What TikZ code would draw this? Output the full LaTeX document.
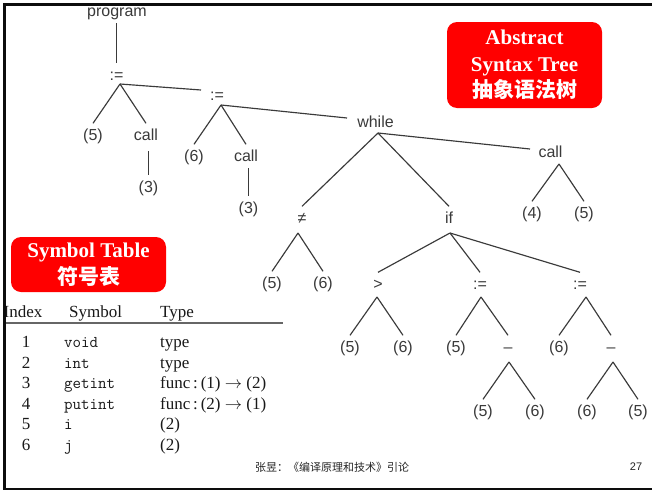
\documentclass[tikz,border=0pt]{standalone}
\usepackage{fontspec}
\setmainfont{Liberation Serif}
\newfontfamily\treefont{Liberation Sans}
\newfontfamily\cjk{Noto Sans CJK SC}
\usetikzlibrary{calc}
\definecolor{treegray}{HTML}{3A3A3A}
\definecolor{slidered}{HTML}{FF0000}
\begin{document}
\begin{tikzpicture}[x=1pt,y=-1pt,
  tn/.style={font=\treefont\fontsize{16}{16}\selectfont, text=treegray, text height=10pt, text depth=2pt, inner xsep=1pt, inner ysep=6.5pt, anchor=center},
  tl/.style={draw=treegray, line width=1.15pt},
  redbox/.style={fill=slidered, rounded corners=10pt, draw=none, text=white, align=center, inner sep=0pt, font=\fontsize{21}{26.5}\selectfont\bfseries},
  tab/.style={font=\fontsize{17}{17}\selectfont, anchor=base west, inner sep=0pt, text=black!90},
  tabc/.style={font=\fontsize{17}{17}\selectfont, anchor=base, inner sep=0pt, text=black!90},
  tabtt/.style={font=\ttfamily\fontsize{16.5}{16.5}\selectfont, anchor=base west, inner sep=0pt, text=black!90},
]
\useasboundingbox (0,0) rectangle (652,490);
\fill[white] (0,0) rectangle (652,490);

% ---------- tree nodes ----------
\node[tn] (prog) at (117,12) {program};
\node[tn] (a1) at (116.5,76) {:=};
\node[tn] (n5a) at (93,136) {(5)};
\node[tn] (callA) at (146,136) {call};
\node[tn] (n3a) at (148.5,188) {(3)};
\node[tn] (a2) at (217,96) {:=};
\node[tn] (n6a) at (194,157) {(6)};
\node[tn] (callB) at (246,157) {call};
\node[tn] (n3b) at (248.5,209) {(3)};
\node[tn] (wh) at (375.5,123) {while};
\node[tn] (cR) at (550.5,153) {call};
\node[tn] (n4) at (532,214) {(4)};
\node[tn] (n5b) at (584,214) {(5)};
\node[tn] (neq) at (302,219) {≠};
\node[tn] (n5c) at (272,284) {(5)};
\node[tn] (n6c) at (323,284) {(6)};
\node[tn] (ifn) at (449,219) {if};
\node[tn] (gt) at (378,285) {>};
\node[tn] (a3) at (480,285) {:=};
\node[tn] (a4) at (580,285) {:=};
\node[tn] (n5d) at (350,348) {(5)};
\node[tn] (n6d) at (403,348) {(6)};
\node[tn] (n5e) at (456,348) {(5)};
\node[tn] (m1) at (508,348) {–};
\node[tn] (n6e) at (559,348) {(6)};
\node[tn] (m2) at (611,348) {–};
\node[tn] (n5f) at (483,412) {(5)};
\node[tn] (n6f) at (535,412) {(6)};
\node[tn] (n6g) at (587,412) {(6)};
\node[tn] (n5g) at (638,412) {(5)};

% ---------- apex points ----------
\coordinate (progX) at ($(prog.center)+(-0.5,11)$);
\coordinate (a1X) at ($(a1.center)+(3.5,8)$);
\coordinate (callAX) at ($(callA.center)+(2.5,15)$);
\coordinate (a2X) at ($(a2.center)+(4,9)$);
\coordinate (callBX) at ($(callB.center)+(2.5,11)$);
\coordinate (whX) at ($(wh.center)+(2.5,10)$);
\coordinate (cRX) at ($(cR.center)+(8.5,11)$);
\coordinate (neqX) at ($(neq.center)+(-4,14)$);
\coordinate (ifX) at ($(ifn.center)+(1,14)$);
\coordinate (gtX) at ($(gt.center)+(-1,12)$);
\coordinate (a3X) at ($(a3.center)+(1,12)$);
\coordinate (a4X) at ($(a4.center)+(6,12)$);
\coordinate (m1X) at ($(m1.center)+(1,14)$);
\coordinate (m2X) at ($(m2.center)+(2,14)$);

% ---------- tree edges ----------
\draw[tl] (progX) -- (a1.north);
\draw[tl] (a1X) -- (n5a.north);
\draw[tl] (a1X) -- (callA.north);
\draw[tl] (a1X) -- ($(a2.center)+(-16,-6)$);
\draw[tl] (callAX) -- (n3a.north);
\draw[tl] (a2X) -- (n6a.north);
\draw[tl] (a2X) -- (callB.north);
\draw[tl] (a2X) -- ($(wh.center)+(-28.5,-5)$);
\draw[tl] (callBX) -- (n3b.north);
\draw[tl] (whX) -- (neq.north);
\draw[tl] (whX) -- (ifn.north);
\draw[tl] (whX) -- ($(cR.center)+(-20.5,-4)$);
\draw[tl] (cRX) -- (n4.north);
\draw[tl] (cRX) -- (n5b.north);
\draw[tl] (neqX) -- (n5c.north);
\draw[tl] (neqX) -- (n6c.north);
\draw[tl] (ifX) -- (gt.north);
\draw[tl] (ifX) -- (a3.north);
\draw[tl] (ifX) -- (a4.north);
\draw[tl] (gtX) -- (n5d.north);
\draw[tl] (gtX) -- (n6d.north);
\draw[tl] (a3X) -- (n5e.north);
\draw[tl] (a3X) -- (m1.north);
\draw[tl] (a4X) -- (n6e.north);
\draw[tl] (a4X) -- (m2.north);
\draw[tl] (m1X) -- (n5f.north);
\draw[tl] (m1X) -- (n6f.north);
\draw[tl] (m2X) -- (n6g.north);
\draw[tl] (m2X) -- (n5g.north);

% ---------- red boxes ----------
\node[redbox, minimum width=155pt, minimum height=86pt] (ast) at (524.5,65)
  {Abstract\\Syntax Tree\\{\cjk\bfseries 抽象语法树}};
\node[redbox, minimum width=155pt, minimum height=55pt, font=\fontsize{21}{27}\selectfont\bfseries] (symtab) at (88.5,264.5)
  {Symbol Table\\{\cjk\bfseries 符号表}};

% ---------- symbol table ----------
\node[tab] (hIdx) at (3.5,317) {Index};
\node[tab] (hSym) at (69,317) {Symbol};
\node[tab] (hTyp) at (160,317) {Type};
\coordinate (ruleL) at (5,323);
\coordinate (ruleR) at (283,323);
\draw[draw=black!60, line width=1.2pt] (ruleL) -- (ruleR);

\node[tabc] (i1) at (26,347) {1};
\node[tabtt] (s1) at (64,347) {void};
\node[tab] (t1) at (160,347) {type};
\node[tabc] (i2) at (26,368) {2};
\node[tabtt] (s2) at (64,368) {int};
\node[tab] (t2) at (160,368) {type};
\node[tabc] (i3) at (26,388) {3};
\node[tabtt] (s3) at (64,388) {getint};
\node[tab] (t3) at (160,388) {func\,:\,(1) $\rightarrow$ (2)};
\node[tabc] (i4) at (26,409) {4};
\node[tabtt] (s4) at (64,409) {putint};
\node[tab] (t4) at (160,409) {func\,:\,(2) $\rightarrow$ (1)};
\node[tabc] (i5) at (26,429) {5};
\node[tabtt] (s5) at (64,429) {i};
\node[tab] (t5) at (160,429) {(2)};
\node[tabc] (i6) at (26,450) {6};
\node[tabtt] (s6) at (64,450) {j};
\node[tab] (t6) at (160,450) {(2)};

% ---------- footer ----------
\node[font=\cjk\fontsize{11}{11}\selectfont, text=black!85, inner sep=0pt] (foot) at (332,467) {张昱：《编译原理和技术》引论};
\node[font=\treefont\fontsize{11}{11}\selectfont, text=black!85, inner sep=0pt] (pg) at (636,467) {27};

% ---------- slide frame ----------
\draw[line width=2.6pt, draw=black!95] (652,4.5) -- (4.7,4.5) -- (4.7,488.8) -- (652,488.8);
\end{tikzpicture}
\end{document}
